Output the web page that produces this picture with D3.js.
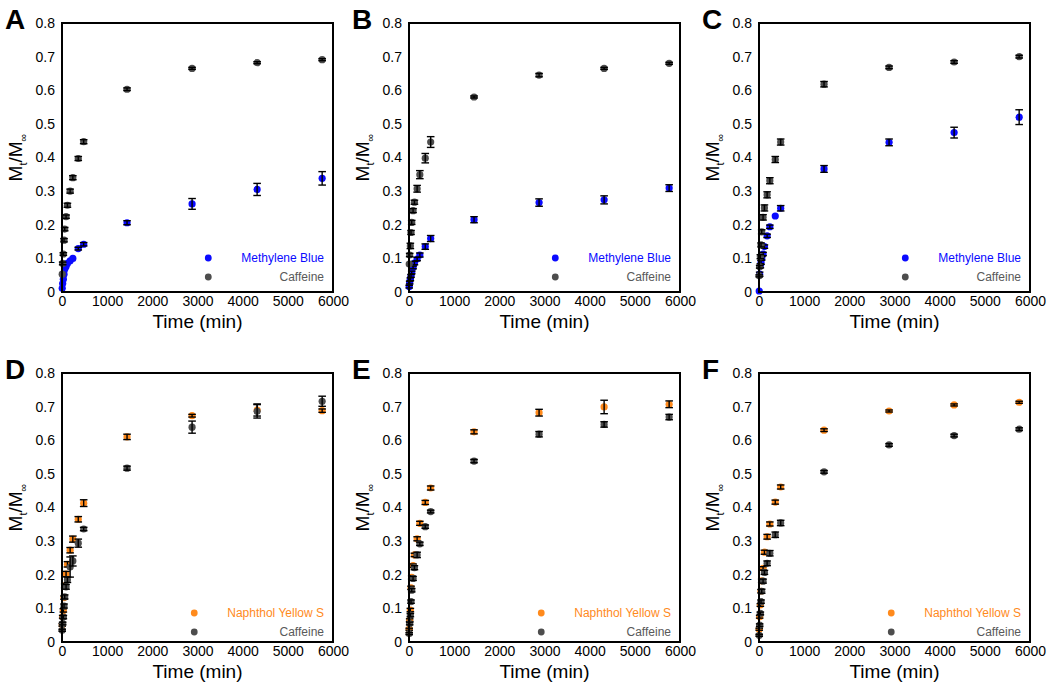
<!DOCTYPE html>
<html>
<head>
<meta charset="utf-8">
<script src="https://cdn.jsdelivr.net/npm/d3@7"></script>
<style>
  body { margin: 0; background: #fff; }
  svg text { font-family: Arial, "Liberation Sans", sans-serif; }
</style>
</head>
<body>
<div class="canvas"></div>
<script>
// sampling times (min), shared by every series
const times = [5, 15, 30, 45, 60, 90, 120, 180, 240, 360, 480, 1440, 2880, 4320, 5760];

// Methylene Blue panels (A, B, C)
const mbA = [0.011, 0.025, 0.038, 0.053, 0.068, 0.076, 0.085, 0.093, 0.100, 0.129, 0.142, 0.206, 0.262, 0.305, 0.338];
const mbAErr = [0, 0, 0, 0, 0, 0, 0, 0, 0, 0.004, 0.005, 0.006, 0.016, 0.018, 0.020];
const mbB = [0.016, 0.028, 0.038, 0.048, 0.058, 0.073, 0.086, 0.098, 0.110, 0.135, 0.159, 0.215, 0.266, 0.274, 0.309];
const mbBErr = [0.004, 0.004, 0.004, 0.004, 0.004, 0.004, 0.005, 0.005, 0.006, 0.008, 0.009, 0.009, 0.011, 0.012, 0.010];
const mbC = [0.003, 0.053, 0.078, 0.088, 0.100, 0.113, 0.135, 0.167, 0.194, 0.226, 0.249, 0.366, 0.445, 0.474, 0.520];
const mbCErr = [0, 0.006, 0.006, 0.006, 0.005, 0.005, 0.005, 0.005, 0.005, 0, 0.008, 0.010, 0.010, 0.016, 0.022];

// Naphthol Yellow S panels (D, E, F)
const nysD = [0.051, 0.075, 0.094, 0.132, 0.167, 0.202, 0.231, 0.273, 0.306, 0.365, 0.413, 0.610, 0.673, 0.690, 0.688];
const nysDErr = [0.004, 0.004, 0.005, 0.005, 0.006, 0.008, 0.008, 0.008, 0.009, 0.008, 0.010, 0.008, 0.004, 0.018, 0.005];
const nysE = [0.038, 0.065, 0.095, 0.161, 0.192, 0.227, 0.259, 0.307, 0.353, 0.415, 0.458, 0.625, 0.682, 0.699, 0.707];
const nysEErr = [0.003, 0.004, 0.005, 0.005, 0.005, 0.005, 0.005, 0.006, 0.006, 0.006, 0.006, 0.006, 0.010, 0.020, 0.010];
const nysF = [0.038, 0.075, 0.110, 0.151, 0.182, 0.219, 0.267, 0.313, 0.351, 0.416, 0.461, 0.630, 0.687, 0.705, 0.713];
const nysFErr = [0.003, 0.004, 0.004, 0.005, 0.005, 0.005, 0.006, 0.007, 0.006, 0.006, 0.006, 0.004, 0.003, 0.003, 0.003];

// Caffeine in each panel
const cafA = [0.053, 0.085, 0.113, 0.154, 0.187, 0.224, 0.258, 0.300, 0.340, 0.397, 0.447, 0.603, 0.665, 0.682, 0.691];
const cafAErr = [0, 0.004, 0.004, 0.005, 0.005, 0.005, 0.006, 0.006, 0.006, 0.006, 0.006, 0.004, 0.003, 0.003, 0.003];
const cafB = [0.083, 0.110, 0.137, 0.177, 0.207, 0.242, 0.267, 0.307, 0.349, 0.398, 0.446, 0.580, 0.645, 0.665, 0.680];
const cafBErr = [0, 0.005, 0.008, 0.006, 0.006, 0.006, 0.006, 0.010, 0.012, 0.014, 0.016, 0.003, 0.005, 0.003, 0.003];
const cafC = [0.048, 0.075, 0.105, 0.140, 0.179, 0.222, 0.250, 0.289, 0.331, 0.394, 0.446, 0.618, 0.668, 0.684, 0.700];
const cafCErr = [0.003, 0.004, 0.006, 0.006, 0.006, 0.008, 0.009, 0.009, 0.009, 0.009, 0.009, 0.008, 0.004, 0.004, 0.004];
const cafD = [0.035, 0.055, 0.074, 0.107, 0.134, 0.164, 0.185, 0.223, 0.241, 0.294, 0.336, 0.517, 0.639, 0.686, 0.716];
const cafDErr = [0.003, 0.004, 0.005, 0.006, 0.006, 0.007, 0.008, 0.030, 0.015, 0.012, 0.005, 0.006, 0.018, 0.020, 0.015];
const cafE = [0.025, 0.055, 0.080, 0.120, 0.154, 0.189, 0.221, 0.259, 0.292, 0.343, 0.388, 0.538, 0.618, 0.647, 0.669];
const cafEErr = [0.003, 0.004, 0.005, 0.005, 0.005, 0.006, 0.006, 0.008, 0.005, 0.005, 0.004, 0.005, 0.008, 0.008, 0.008];
const cafF = [0.020, 0.050, 0.085, 0.120, 0.151, 0.181, 0.207, 0.234, 0.264, 0.319, 0.354, 0.506, 0.586, 0.614, 0.633];
const cafFErr = [0.003, 0.004, 0.004, 0.005, 0.006, 0.006, 0.006, 0.007, 0.008, 0.008, 0.008, 0.004, 0.004, 0.004, 0.004];

const panelLetters = ['A', 'B', 'C', 'D', 'E', 'F'];
const dyeNames = ['Methylene Blue', 'Methylene Blue', 'Methylene Blue',
                  'Naphthol Yellow S', 'Naphthol Yellow S', 'Naphthol Yellow S'];
const xTicks = [0, 1000, 2000, 3000, 4000, 5000, 6000];
const yTicks = [0, 0.1, 0.2, 0.3, 0.4, 0.5, 0.6, 0.7, 0.8];

// layout
const dims = { width: 271, height: 269 };
const cols = [62, 409, 759];
const rows = [23, 373];
const legendTop = [-34, -29]; // first legend row above the frame bottom, per row of panels
const colors = { 'Methylene Blue': '#0a0aff', 'Naphthol Yellow S': '#ff8a1c', 'Caffeine': '#4d4d4d' };
const textColors = { 'Methylene Blue': '#0a0aff', 'Naphthol Yellow S': '#ff8a1c', 'Caffeine': '#595959' };

const dyeSeries = [mbA, mbB, mbC, nysD, nysE, nysF];
const dyeErrors = [mbAErr, mbBErr, mbCErr, nysDErr, nysEErr, nysFErr];
const cafSeries = [cafA, cafB, cafC, cafD, cafE, cafF];
const cafErrors = [cafAErr, cafBErr, cafCErr, cafDErr, cafEErr, cafFErr];

const svg = d3.select('.canvas')
  .append('svg')
  .attr('width', 1050)
  .attr('height', 690);

const x = d3.scaleLinear().domain([0, 6000]).range([0, dims.width]);
const y = d3.scaleLinear().domain([0, 0.8]).range([dims.height, 0]);

// draw one set of points with error bars
const drawSeries = (g, vals, errs, color) => {
  const pts = times.map((t, i) => ({ t, v: vals[i], e: errs[i] }));

  g.append('g').selectAll('circle')
    .data(pts)
    .enter().append('circle')
      .attr('cx', d => x(d.t))
      .attr('cy', d => y(d.v))
      .attr('r', 3.6)
      .attr('fill', color);

  // points with no measurable spread get no bar
  const bars = g.append('g')
    .attr('stroke', '#000')
    .attr('stroke-width', 1.4)
    .selectAll('g')
    .data(pts.filter(d => d.e > 0))
    .enter().append('g');

  bars.append('line')
    .attr('x1', d => x(d.t)).attr('x2', d => x(d.t))
    .attr('y1', d => y(d.v - d.e)).attr('y2', d => y(d.v + d.e));
  bars.append('line')
    .attr('x1', d => x(d.t) - 3.8).attr('x2', d => x(d.t) + 3.8)
    .attr('y1', d => y(d.v + d.e)).attr('y2', d => y(d.v + d.e));
  bars.append('line')
    .attr('x1', d => x(d.t) - 3.8).attr('x2', d => x(d.t) + 3.8)
    .attr('y1', d => y(d.v - d.e)).attr('y2', d => y(d.v - d.e));
};

panelLetters.forEach((letter, i) => {
  const row = Math.floor(i / 3);
  const left = cols[i % 3];
  const top = rows[row];
  const graph = svg.append('g').attr('transform', `translate(${left}, ${top})`);

  // axes without tick marks, only labels
  const xAxis = d3.axisBottom(x).tickValues(xTicks).tickSize(0).tickPadding(4)
    .tickFormat(d3.format('d'));
  const yAxis = d3.axisLeft(y).tickValues(yTicks).tickSize(0).tickPadding(7)
    .tickFormat(d => d === 0 ? '0' : d3.format('.1f')(d));

  graph.append('g')
    .attr('transform', `translate(0, ${dims.height})`)
    .call(xAxis)
    .call(g => g.select('.domain').remove())
    .selectAll('text').attr('font-size', 14).attr('fill', '#000')
      .attr('font-family', 'Arial, "Liberation Sans", sans-serif');

  graph.append('g')
    .call(yAxis)
    .call(g => g.select('.domain').remove())
    .selectAll('text').attr('font-size', 14).attr('fill', '#000')
      .attr('font-family', 'Arial, "Liberation Sans", sans-serif');

  // data
  const dye = dyeNames[i];
  drawSeries(graph, dyeSeries[i], dyeErrors[i], colors[dye]);
  drawSeries(graph, cafSeries[i], cafErrors[i], colors['Caffeine']);

  // frame
  graph.append('rect')
    .attr('width', dims.width)
    .attr('height', dims.height)
    .attr('fill', 'none')
    .attr('stroke', '#000')
    .attr('stroke-width', 2);

  // legend, right aligned inside the frame
  const legend = graph.append('g');
  const labels = [dye, 'Caffeine'];
  const texts = legend.selectAll('text')
    .data(labels)
    .enter().append('text')
      .attr('x', dims.width - 9)
      .attr('y', (d, j) => dims.height + legendTop[row] + 4 + j * 19)
      .attr('text-anchor', 'end')
      .attr('font-size', 12)
      .attr('fill', d => textColors[d])
      .text(d => d);
  const textW = d3.max(texts.nodes(), n => n.getComputedTextLength());
  legend.selectAll('circle')
    .data(labels)
    .enter().append('circle')
      .attr('cx', dims.width - 9 - textW - 33)
      .attr('cy', (d, j) => dims.height + legendTop[row] + j * 19)
      .attr('r', 3.4)
      .attr('fill', d => colors[d]);

  // axis titles
  graph.append('text')
    .attr('x', dims.width / 2)
    .attr('y', dims.height + 36)
    .attr('text-anchor', 'middle')
    .attr('font-size', 19)
    .text('Time (min)');

  const yTitle = graph.append('text')
    .attr('transform', `translate(-40, ${dims.height / 2}) rotate(-90)`)
    .attr('text-anchor', 'middle')
    .attr('font-size', 19);
  yTitle.append('tspan').text('M');
  yTitle.append('tspan').attr('font-size', 11).attr('dy', 5).text('t');
  yTitle.append('tspan').attr('dy', -5).text('/M');
  yTitle.append('tspan').attr('font-size', 11).attr('dy', 5).text('∞');

  // panel letter
  svg.append('text')
    .attr('x', left - 57)
    .attr('y', top + 6)
    .attr('font-size', 28)
    .attr('font-weight', 'bold')
    .text(letter);
});
</script>
</body>
</html>
